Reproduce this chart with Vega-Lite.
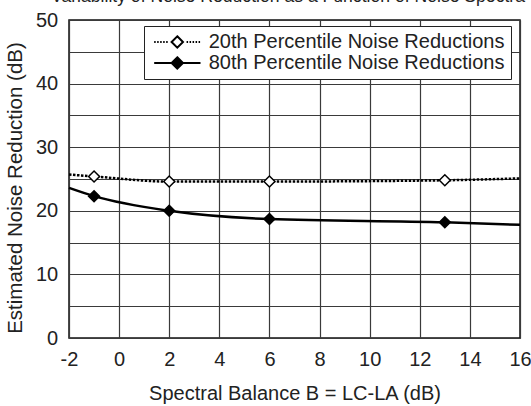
{
  "$schema": "https://vega.github.io/schema/vega-lite/v6.json",
  "width": 451,
  "height": 318,
  "autosize": {"type": "none"},
  "padding": {"left": 69, "top": 20, "right": 11, "bottom": 68},
  "background": "white",
  "title": {
    "text": "Variability of Noise Reduction as a Function of Noise Spectra",
    "fontSize": 17.6,
    "fontWeight": "normal",
    "color": "#222",
    "offset": 4,
    "dx": -6.5
  },
  "config": {
    "view": {"stroke": "#111", "strokeWidth": 1.5},
    "font": "Liberation Sans"
  },
  "datasets": {
    "curves": [
      {"x": -2, "y": 25.7, "series": "20th Percentile Noise Reductions", "marker": false},
      {"x": -1, "y": 25.4, "series": "20th Percentile Noise Reductions", "marker": true},
      {"x": 2, "y": 24.6, "series": "20th Percentile Noise Reductions", "marker": true},
      {"x": 6, "y": 24.6, "series": "20th Percentile Noise Reductions", "marker": true},
      {"x": 13, "y": 24.8, "series": "20th Percentile Noise Reductions", "marker": true},
      {"x": 16, "y": 25.1, "series": "20th Percentile Noise Reductions", "marker": false},
      {"x": -2, "y": 23.6, "series": "80th Percentile Noise Reductions", "marker": false},
      {"x": -1, "y": 22.3, "series": "80th Percentile Noise Reductions", "marker": true},
      {"x": 2, "y": 20.0, "series": "80th Percentile Noise Reductions", "marker": true},
      {"x": 6, "y": 18.7, "series": "80th Percentile Noise Reductions", "marker": true},
      {"x": 13, "y": 18.2, "series": "80th Percentile Noise Reductions", "marker": true},
      {"x": 16, "y": 17.8, "series": "80th Percentile Noise Reductions", "marker": false}
    ]
  },
  "data": {"name": "curves"},
  "encoding": {
    "x": {
      "field": "x",
      "type": "quantitative",
      "scale": {"domain": [-2, 16], "nice": false, "zero": false},
      "axis": {
        "values": [-2, 0, 2, 4, 6, 8, 10, 12, 14, 16],
        "labelExpr": "'' + datum.value",
        "title": "Spectral Balance B = LC-LA (dB)",
        "grid": true,
        "gridColor": "#3a3a3a",
        "gridWidth": 1.2,
        "domain": false,
        "ticks": false,
        "labelFontSize": 20,
        "labelColor": "#222",
        "labelPadding": 11.5,
        "labelFlush": false,
        "labelOverlap": false,
        "titleFontSize": 20,
        "titleFontWeight": "normal",
        "titleColor": "#222",
        "titlePadding": 14
      }
    },
    "y": {
      "field": "y",
      "type": "quantitative",
      "scale": {"domain": [0, 50], "nice": false},
      "axis": {
        "values": [0, 5, 10, 15, 20, 25, 30, 35, 40, 45, 50],
        "labelExpr": "datum.value % 10 == 0 ? datum.label : ''",
        "title": "Estimated Noise Reduction (dB)",
        "grid": true,
        "gridColor": "#3a3a3a",
        "gridWidth": 1.2,
        "domain": false,
        "ticks": false,
        "labelFontSize": 20,
        "labelColor": "#222",
        "labelPadding": 11.3,
        "labelOverlap": false,
        "titleFontSize": 20.5,
        "titleFontWeight": "normal",
        "titleColor": "#222",
        "titleAngle": -90,
        "titleBaseline": "alphabetic",
        "titleX": -47.3,
        "titleY": 167.5
      }
    }
  },
  "layer": [
    {
      "transform": [{"filter": "datum.series == '20th Percentile Noise Reductions'"}],
      "mark": {"type": "line", "interpolate": "monotone", "strokeWidth": 2.5, "color": "black", "strokeDash": [2.5, 1.5]},
      "encoding": {}
    },
    {
      "transform": [{"filter": "datum.series == '80th Percentile Noise Reductions'"}],
      "mark": {"type": "line", "interpolate": "monotone", "strokeWidth": 2.5, "color": "black"},
      "encoding": {}
    },
    {
      "transform": [{"filter": "datum.marker"}],
      "mark": {"type": "point", "shape": "diamond", "filled": true, "size": 120, "stroke": "black", "strokeWidth": 1.5, "opacity": 1},
      "encoding": {
        "fill": {
          "field": "series",
          "type": "nominal",
          "scale": {
            "domain": ["20th Percentile Noise Reductions", "80th Percentile Noise Reductions"],
            "range": ["white", "black"]
          },
          "legend": {
            "title": null,
            "orient": "none",
            "legendX": 75,
            "legendY": 6,
            "padding": 6,
            "strokeColor": "#222",
            "fillColor": "white",
            "labelFontSize": 20,
            "labelColor": "#222",
            "symbolSize": 144,
            "symbolStrokeWidth": 2,
            "symbolStrokeColor": "black",
            "symbolOpacity": 1,
            "labelOffset": 38.7,
            "rowPadding": 1,
            "labelLimit": 400,
            "encode": {"symbols": {"update": {"stroke": {"value": "black"}, "strokeWidth": {"value": 2}, "strokeOpacity": {"value": 1}}}}
          }
        }
      }
    },
    {
      "transform": [{"filter": "false"}],
      "mark": {"type": "point", "filled": true, "stroke": "black", "strokeWidth": 2, "opacity": 1},
      "encoding": {
        "shape": {
          "field": "series",
          "type": "nominal",
          "scale": {
            "domain": ["20th Percentile Noise Reductions", "80th Percentile Noise Reductions"],
            "range": [
              "M-0.97,0h0.25M-0.47,0h0.25M0.03,0h0.25M0.53,0h0.25M1.03,0h0.25M4.43,0h0.25M4.93,0h0.25M5.43,0h0.25M5.93,0h0.25M6.43,0h0.25M2.88,-0.95L3.83,0L2.88,0.95L1.93,0Z",
              "M-0.97,0H6.75M2.88,-0.95L3.83,0L2.88,0.95L1.93,0Z"
            ]
          },
          "legend": {
            "title": null,
            "orient": "none",
            "legendX": 75,
            "legendY": 6,
            "padding": 6,
            "strokeColor": "#222",
            "fillColor": "white",
            "labelFontSize": 20,
            "labelColor": "#222",
            "symbolSize": 144,
            "symbolStrokeWidth": 2,
            "symbolStrokeColor": "black",
            "symbolOpacity": 1,
            "labelOffset": 38.7,
            "rowPadding": 1,
            "labelLimit": 400,
            "encode": {"symbols": {"update": {"stroke": {"value": "black"}, "strokeWidth": {"value": 2}, "strokeOpacity": {"value": 1}}}}
          }
        }
      }
    }
  ]
}
